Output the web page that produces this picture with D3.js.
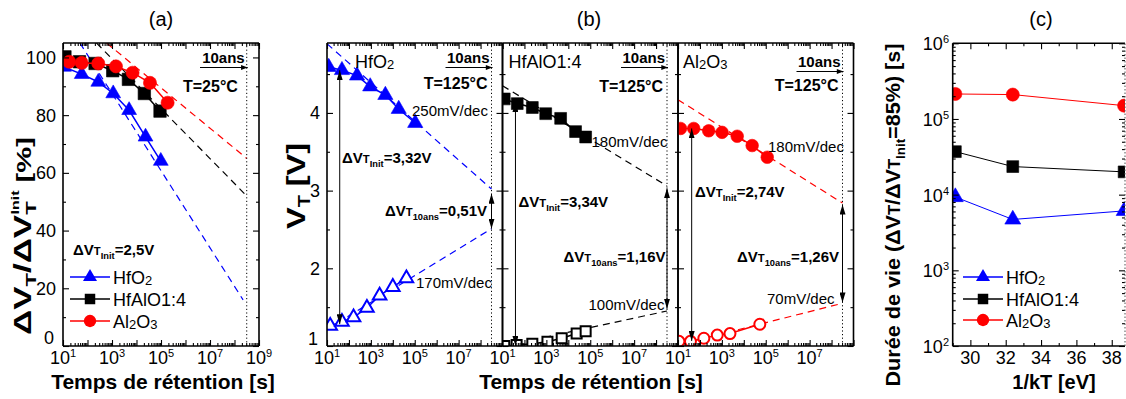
<!DOCTYPE html>
<html><head><meta charset="utf-8">
<script src="https://cdn.jsdelivr.net/npm/d3@7"></script>
<style>
body{margin:0;background:#fff}
svg{display:block;font-family:"Liberation Sans",Arial,Helvetica,sans-serif}
</style></head><body>
<svg id="chart" width="1126" height="399"></svg>
<script>
// ================= DATA =================
const tenYears = 315360000; // 10 ans en secondes

// (a) T=25°C : ΔVT/ΔVT_Init [%] vs temps [s]
const aTimeHfO2  = [11, 58, 275, 1120, 5000, 23400, 98000];
const aPctHfO2   = [96.7, 94.2, 91.5, 87.5, 81.7, 72.5, 64.1];
const aTimeHfAlO = [12, 47, 204, 1070, 4680, 20900, 91200];
const aPctHfAlO  = [100.2, 98.5, 97.9, 95.4, 92.4, 87.5, 81.4];
const aTimeAl2O3 = [18, 58, 275, 1450, 6900, 35500, 186000];
const aPctAl2O3  = [98.5, 98.1, 97.9, 96.9, 94.7, 91.2, 84.3];
// extrapolations (dashed) [temps, %]
const aFitHfO2  = [[49, 105], [2.24e8, 16]];
const aFitHfAlO = [[234, 105], [tenYears, 52]];
const aFitAl2O3 = [[603, 105], [tenYears, 65]];

// (b) T=125°C : VT [V] vs temps [s]
const bTimeHfO2P  = [12, 48, 234, 933, 4570, 18600, 105000];
const bVtHfO2P    = [4.59, 4.55, 4.48, 4.34, 4.23, 4.05, 3.87];
const bTimeHfO2E  = [14, 48, 162, 660, 2500, 10000, 41700];
const bVtHfO2E    = [1.26, 1.31, 1.37, 1.49, 1.65, 1.76, 1.87];
const bTimeHfAlOP = [12, 47, 229, 933, 4470, 21400, 61700];
const bVtHfAlOP   = [4.18, 4.12, 4.07, 3.99, 3.93, 3.76, 3.69];
const bTimeHfAlOE = [12, 44, 229, 1120, 5000, 24000, 61700];
const bVtHfAlOE   = [1.0, 1.013, 1.03, 1.055, 1.10, 1.16, 1.19];
const bTimeAl2O3P = [13, 52, 251, 1020, 5000, 24000, 117000];
const bVtAl2O3P   = [3.80, 3.80, 3.77, 3.75, 3.70, 3.58, 3.43];
const bTimeAl2O3E = [11, 37, 151, 617, 2340, 53700];
const bVtAl2O3E   = [1.06, 1.06, 1.10, 1.14, 1.16, 1.28];
const bFitHfO2P  = [[10, 4.89], [tenYears, 3.02]];
const bFitHfO2E  = [[10, 1.215], [tenYears, 2.51]];
const bFitHfAlOP = [[10, 4.35], [tenYears, 3.06]];
const bFitHfAlOE = [[800, 1.11], [tenYears, 1.45]];
const bFitAl2O3P = [[10, 4.17], [tenYears, 2.84]];
const bFitAl2O3E = [[12, 1.02], [tenYears, 1.55]];
// vertical ΔVT arrows [temps, V haut, V bas]
const bInitArrows = [[38, 4.55, 1.28], [39, 4.14, 1.0], [42, 3.80, 1.065]];
const bTenArrows  = [[tenYears, 2.96, 2.51], [tenYears, 3.03, 1.48], [tenYears, 2.82, 1.56]];
const bNames   = ["HfO2", "HfAlO1:4", "Al2O3"];
const bInitTxt = ["3,32V", "3,34V", "2,74V"];
const bTenTxt  = ["0,51V", "1,16V", "1,26V"];
const bSlopeP  = ["250mV/dec", "180mV/dec", "180mV/dec"];
const bSlopeE  = ["170mV/dec", "100mV/dec", "70mV/dec"];

// (c) durée de vie vs 1/kT
const cInvKT     = [29.15, 32.4, 38.7];
const cLifeHfO2  = [9300, 4700, 6100];
const cLifeHfAlO = [37000, 23500, 20000];
const cLifeAl2O3 = [214000, 210000, 150000];

// tick values
const aYTicks = [0, 20, 40, 60, 80, 100];
const aYMinor = [10, 30, 50, 70, 90];
const bYTicks = [1, 2, 3, 4];
const bYMinor = [1.5, 2.5, 3.5, 4.5];
const cXTicks = [30, 32, 34, 36, 38];
const cXMinor = [29, 31, 33, 35, 37];
const logLabelExpA = [1, 3, 5, 7, 9];
const logLabelExpB = [1, 3, 5, 7];
const cYLabelExp = [2, 3, 4, 5, 6];

const BLUE = "#0000ff", RED = "#ff0000", BLACK = "#000000";

// ================= HELPERS =================
const svg = d3.select("#chart");
const defs = svg.append("defs");
defs.append("marker").attr("id", "ah").attr("viewBox", "0 0 10 6")
  .attr("refX", 10).attr("refY", 3).attr("markerWidth", 10).attr("markerHeight", 6)
  .attr("markerUnits", "userSpaceOnUse").attr("orient", "auto-start-reverse")
  .append("path").attr("d", "M0,0L10,3L0,6Z").attr("fill", "#000");
defs.append("marker").attr("id", "ahs").attr("viewBox", "0 0 8 6")
  .attr("refX", 8).attr("refY", 3).attr("markerWidth", 8).attr("markerHeight", 5)
  .attr("markerUnits", "userSpaceOnUse").attr("orient", "auto")
  .append("path").attr("d", "M0,0L8,3L0,6Z").attr("fill", "#000");

let clipN = 0;
function clipFor(x, y) {
  const id = "cl" + (clipN++);
  const [x0, x1] = x.range(), [y0, y1] = y.range();
  defs.append("clipPath").attr("id", id).append("rect")
    .attr("x", x0).attr("y", y1).attr("width", x1 - x0).attr("height", y0 - y1);
  return `url(#${id})`;
}
function logTicks(lo, hi) {
  const maj = [], min = [];
  for (let e = lo; e <= hi; e++) {
    maj.push(Math.pow(10, e));
    if (e < hi) for (let k = 2; k <= 9; k++) min.push(k * Math.pow(10, e));
  }
  return { maj, min };
}
function axisSet(g, x, y, xMaj, xMin, yMaj, yMin, dottedRight) {
  const [x0, x1] = x.range(), [y0, y1] = y.range();
  const mk = (axis, vals, size, tr) => {
    const a = g.append("g").attr("transform", tr)
      .call(axis.tickValues(vals).tickSize(size).tickSizeOuter(0).tickFormat(() => ""));
    a.select(".domain").remove();
    a.selectAll("line").attr("stroke", "#000").attr("stroke-width", 1.1);
  };
  mk(d3.axisBottom(x), xMaj, -6, `translate(0,${y0})`);
  mk(d3.axisBottom(x), xMin, -3, `translate(0,${y0})`);
  mk(d3.axisTop(x), xMaj, -6, `translate(0,${y1})`);
  mk(d3.axisTop(x), xMin, -3, `translate(0,${y1})`);
  mk(d3.axisLeft(y), yMaj, -6, `translate(${x0},0)`);
  mk(d3.axisLeft(y), yMin, -3, `translate(${x0},0)`);
  mk(d3.axisRight(y), yMaj, -6, `translate(${x1},0)`);
  mk(d3.axisRight(y), yMin, -3, `translate(${x1},0)`);
  const fr = g.append("g").attr("stroke", "#000").attr("stroke-width", 1.6).attr("fill", "none");
  fr.append("line").attr("x1", x0).attr("x2", x1).attr("y1", y0).attr("y2", y0);
  fr.append("line").attr("x1", x0).attr("x2", x1).attr("y1", y1).attr("y2", y1);
  fr.append("line").attr("x1", x0).attr("x2", x0).attr("y1", y0).attr("y2", y1);
  const r = fr.append("line").attr("x1", x1).attr("x2", x1).attr("y1", y0).attr("y2", y1);
  if (dottedRight) r.attr("stroke-dasharray", "1.5,2").attr("stroke-width", 1).attr("stroke", "#555");
}
function powLabel(g, x, y, exp, anchor) {
  const t = g.append("text").attr("x", x).attr("y", y).attr("text-anchor", anchor).attr("font-size", 18);
  t.append("tspan").text("10");
  t.append("tspan").attr("font-size", 11).attr("dy", -7).text(exp);
}
function series(g, x, y, xs, ys, color, sym, size, filled, lw) {
  const pts = xs.map((t, i) => [x(t), y(ys[i])]);
  g.append("path").attr("d", d3.line()(pts)).attr("fill", "none")
    .attr("stroke", color).attr("stroke-width", lw);
  g.selectAll(null).data(pts).join("path")
    .attr("transform", d => `translate(${d[0]},${d[1]})`)
    .attr("d", d3.symbol(sym, size))
    .attr("fill", filled ? color : "#fff")
    .attr("stroke", color).attr("stroke-width", filled ? 0.6 : 2);
}
function fit(g, x, y, pair, color) {
  g.append("path").attr("d", d3.line()(pair.map(d => [x(d[0]), y(d[1])])))
    .attr("fill", "none").attr("stroke", color).attr("stroke-width", 1.2)
    .attr("stroke-dasharray", "7,5");
}
function chem(t, name, fs) {
  const parts = name === "HfO2" ? [["HfO", 0], ["2", 1]]
    : name === "Al2O3" ? [["Al", 0], ["2", 1], ["O", 0], ["3", 1]] : [[name, 0]];
  let sub = false;
  parts.forEach(([s, isSub]) => {
    const ts = t.append("tspan").text(s);
    if (isSub) { ts.attr("font-size", fs * 0.72).attr("dy", sub ? 0 : 1); sub = true; }
    else { if (sub) ts.attr("dy", -1); ts.attr("font-size", fs); sub = false; }
  });
}
function dvt(g, x, y, sub, rest, fs) {
  const t = g.append("text").attr("x", x).attr("y", y).attr("font-size", fs).attr("font-weight", "bold");
  t.append("tspan").text("ΔV");
  t.append("tspan").attr("font-size", fs * 0.75).text("T");
  t.append("tspan").attr("font-size", fs * 0.62).attr("dy", 4).text(sub);
  t.append("tspan").attr("dy", -4).text(rest);
  return t;
}
function tenAns(g, xEnd, yText, yArrow, xStart) {
  g.append("text").attr("x", xEnd - 2).attr("y", yText).attr("text-anchor", "end")
    .attr("font-size", 15).attr("font-weight", "bold").text("10ans");
  g.append("line").attr("x1", xStart).attr("x2", xEnd + 1).attr("y1", yArrow).attr("y2", yArrow)
    .attr("stroke", "#000").attr("stroke-width", 1.2).attr("marker-end", "url(#ahs)");
}
function dottedV(g, xPos, y) {
  const [y0, y1] = y.range();
  g.append("line").attr("x1", xPos).attr("x2", xPos).attr("y1", y0).attr("y2", y1)
    .attr("stroke", "#000").attr("stroke-width", 1).attr("stroke-dasharray", "1.2,2.4");
}
function legend(g, x0, rows, entries) {
  entries.forEach((e, i) => {
    const yy = rows[i];
    g.append("line").attr("x1", x0).attr("x2", x0 + 40).attr("y1", yy).attr("y2", yy)
      .attr("stroke", e.color).attr("stroke-width", 1.3);
    g.append("path").attr("transform", `translate(${x0 + 20},${yy})`)
      .attr("d", d3.symbol(e.sym, e.size)).attr("fill", e.color);
    const t = g.append("text").attr("x", x0 + 43).attr("y", yy + 6.5);
    chem(t, e.name, 18);
  });
}
const legEntries = [
  { name: "HfO2", color: BLUE, sym: d3.symbolTriangle, size: 85 },
  { name: "HfAlO1:4", color: BLACK, sym: d3.symbolSquare, size: 110 },
  { name: "Al2O3", color: RED, sym: d3.symbolCircle, size: 120 }
];

// ================= PANEL (a) =================
{
  const g = svg.append("g");
  const x = d3.scaleLog().domain([10, 1e9]).range([63, 259]);
  const y = d3.scaleLinear().domain([0, 105]).range([346, 43]);
  const lt = logTicks(1, 9);
  const cp = clipFor(x, y);
  const data = g.append("g").attr("clip-path", cp);
  fit(data, x, y, aFitHfO2, BLUE);
  fit(data, x, y, aFitHfAlO, BLACK);
  fit(data, x, y, aFitAl2O3, RED);
  series(data, x, y, aTimeHfO2, aPctHfO2, BLUE, d3.symbolTriangle, 95, true, 1.5);
  series(data, x, y, aTimeHfAlO, aPctHfAlO, BLACK, d3.symbolSquare, 155, true, 1.5);
  series(data, x, y, aTimeAl2O3, aPctAl2O3, RED, d3.symbolCircle, 135, true, 1.5);
  dottedV(g, x(tenYears), y);
  axisSet(g, x, y, lt.maj, lt.min, aYTicks, aYMinor);
  logLabelExpA.forEach(e => powLabel(g, x(Math.pow(10, e)), 364, e, "middle"));
  aYTicks.forEach(v => g.append("text").attr("x", v === 0 ? 54 : 56).attr("y", v === 0 ? y(v) - 2.5 : y(v) + 6.5)
    .attr("text-anchor", "end").attr("font-size", 18).text(v));
  tenAns(g, x(tenYears), 63, 67.5, 200);
  g.append("text").attr("x", 183).attr("y", 92).attr("font-size", 16).attr("font-weight", "bold").text("T=25°C");
  dvt(g, 73, 255, "Init", "=2,5V", 15);
  legend(g, 70, [277, 299, 321], legEntries);
  g.append("text").attr("x", 161).attr("y", 26).attr("text-anchor", "middle").attr("font-size", 20).text("(a)");
  g.append("text").attr("x", 163).attr("y", 389).attr("text-anchor", "middle")
    .attr("font-size", 21).attr("font-weight", "bold").text("Temps de rétention [s]");
  const yl = g.append("text").attr("transform", "translate(31,236) rotate(-90)")
    .attr("text-anchor", "middle").attr("font-weight", "bold").attr("font-size", 24)
    .attr("textLength", 198).attr("lengthAdjust", "spacingAndGlyphs");
  yl.append("tspan").text("ΔV");
  yl.append("tspan").attr("font-size", 15).attr("dy", 5).text("T");
  yl.append("tspan").attr("dy", -5).text("/ΔV");
  yl.append("tspan").attr("font-size", 15).attr("dy", 5).text("T");
  yl.append("tspan").attr("font-size", 11).attr("dx", -9).attr("dy", -17).text("Init");
  yl.append("tspan").attr("font-size", 20).attr("dy", 12).text(" [%]");
}

// ================= PANEL (b) =================
{
  const g = svg.append("g");
  const y = d3.scaleLinear().domain([1, 4.9]).range([346, 43]);
  const ranges = [[327, 502.5], [502.5, 678], [678, 853.5]];
  const colors = [BLUE, BLACK, RED];
  const syms = [d3.symbolTriangle, d3.symbolSquare, d3.symbolCircle];
  const sizes = [100, 140, 125];
  const opensz = [80, 100, 95];
  const progT = [bTimeHfO2P, bTimeHfAlOP, bTimeAl2O3P], progV = [bVtHfO2P, bVtHfAlOP, bVtAl2O3P];
  const eraT = [bTimeHfO2E, bTimeHfAlOE, bTimeAl2O3E], eraV = [bVtHfO2E, bVtHfAlOE, bVtAl2O3E];
  const fitP = [bFitHfO2P, bFitHfAlOP, bFitAl2O3P], fitE = [bFitHfO2E, bFitHfAlOE, bFitAl2O3E];
  const lt = logTicks(1, 9);
  const L = [
    { name: [28, 68], ten: [63, 67.5], tc: [89], sp: [85, 116], se: [89, 288], init: [15, 163], tenT: [58, 216] },
    { name: [6, 68], ten: [63, 67.5], tc: [92], sp: [89, 147], se: [86, 310], init: [16, 207], tenT: [61, 262] },
    { name: [5, 68], ten: [67, 71.5], tc: [91], sp: [90, 152], se: [89, 304], init: [17, 197], tenT: [59, 262] }
  ];
  ranges.forEach((r, i) => {
    const x = d3.scaleLog().domain([10, 1e9]).range(r);
    const cp = clipFor(x, y);
    const data = g.append("g").attr("clip-path", cp);
    fit(data, x, y, fitP[i], colors[i]);
    fit(data, x, y, fitE[i], colors[i]);
    series(data, x, y, progT[i], progV[i], colors[i], syms[i], sizes[i], true, 1.5);
    series(data, x, y, eraT[i], eraV[i], colors[i], syms[i], opensz[i], false, 1.5);
    dottedV(g, x(tenYears), y);
    axisSet(g, x, y, lt.maj, lt.min, bYTicks, bYMinor);
    logLabelExpB.forEach(e => powLabel(g, x(Math.pow(10, e)), 364, e, "middle"));
    const lay = L[i], x0 = r[0];
    const nt = g.append("text").attr("x", x0 + lay.name[0]).attr("y", lay.name[1]);
    chem(nt, bNames[i], 18);
    tenAns(g, x(tenYears), lay.ten[0], lay.ten[1], x(tenYears) - 46);
    g.append("text").attr("x", x(tenYears) - 4).attr("y", lay.tc[0]).attr("text-anchor", "end")
      .attr("font-size", 16).attr("font-weight", "bold").text("T=125°C");
    g.append("text").attr("x", x0 + lay.sp[0]).attr("y", lay.sp[1]).attr("font-size", 15).text(bSlopeP[i]);
    g.append("text").attr("x", x0 + lay.se[0]).attr("y", lay.se[1]).attr("font-size", 15).text(bSlopeE[i]);
    dvt(g, x0 + lay.init[0], lay.init[1], "Init", "=" + bInitTxt[i], 15);
    dvt(g, x0 + lay.tenT[0], lay.tenT[1], "10ans", "=" + bTenTxt[i], 15);
    const a1 = bInitArrows[i], a2 = bTenArrows[i];
    [a1, a2].forEach(a => g.append("line").attr("x1", x(a[0])).attr("x2", x(a[0]))
      .attr("y1", y(a[1])).attr("y2", y(a[2])).attr("stroke", "#000").attr("stroke-width", 1)
      .attr("marker-start", "url(#ah)").attr("marker-end", "url(#ah)"));
  });
  bYTicks.forEach(v => g.append("text").attr("x", v === 1 ? 318 : 320).attr("y", v === 1 ? y(v) - 1 : y(v) + 6.5)
    .attr("text-anchor", "end").attr("font-size", 18).text(v));
  g.append("text").attr("x", 589).attr("y", 26).attr("text-anchor", "middle").attr("font-size", 20).text("(b)");
  g.append("text").attr("x", 591).attr("y", 389).attr("text-anchor", "middle")
    .attr("font-size", 21).attr("font-weight", "bold").text("Temps de rétention [s]");
  const yl = g.append("text").attr("transform", "translate(305,186) rotate(-90)")
    .attr("text-anchor", "middle").attr("font-weight", "bold").attr("font-size", 26)
    .attr("textLength", 86).attr("lengthAdjust", "spacingAndGlyphs");
  yl.append("tspan").text("V");
  yl.append("tspan").attr("font-size", 16).attr("dy", 5).text("T");
  yl.append("tspan").attr("dy", -5).text(" [V]");
}

// ================= PANEL (c) =================
{
  const g = svg.append("g");
  const x = d3.scaleLinear().domain([29, 38.75]).range([952.7, 1125]);
  const y = d3.scaleLog().domain([100, 1e6]).range([346, 43.3]);
  const lt = logTicks(2, 6);
  const cp = clipFor(x, y);
  const data = g.append("g").attr("clip-path", cp);
  series(data, x, y, cInvKT, cLifeHfO2, BLUE, d3.symbolTriangle, 110, true, 1);
  series(data, x, y, cInvKT, cLifeHfAlO, BLACK, d3.symbolSquare, 140, true, 1);
  series(data, x, y, cInvKT, cLifeAl2O3, RED, d3.symbolCircle, 135, true, 1);
  axisSet(g, x, y, cXTicks, cXMinor, lt.maj, lt.min, true);
  cXTicks.forEach(v => g.append("text").attr("x", x(v)).attr("y", 364)
    .attr("text-anchor", "middle").attr("font-size", 18).text(v));
  cYLabelExp.forEach(e => powLabel(g, 949, y(Math.pow(10, e)) + 7, e, "end"));
  legend(g, 963, [277, 299, 320], legEntries);
  g.append("text").attr("x", 1041).attr("y", 26).attr("text-anchor", "middle").attr("font-size", 20).text("(c)");
  g.append("text").attr("x", 1054).attr("y", 389).attr("text-anchor", "middle")
    .attr("font-size", 20).attr("font-weight", "bold").text("1/kT [eV]");
  const yl = g.append("text").attr("transform", "translate(900,215) rotate(-90)")
    .attr("text-anchor", "middle").attr("font-weight", "bold").attr("font-size", 21)
    .attr("textLength", 343).attr("lengthAdjust", "spacingAndGlyphs");
  yl.append("tspan").text("Durée de vie (ΔV");
  yl.append("tspan").attr("font-size", 16).text("T");
  yl.append("tspan").text("/ΔV");
  yl.append("tspan").attr("font-size", 16).text("T");
  yl.append("tspan").attr("font-size", 13).attr("dy", 5).text("Init");
  yl.append("tspan").attr("dy", -5).text("=85%) [s]");
}
</script></body></html>
